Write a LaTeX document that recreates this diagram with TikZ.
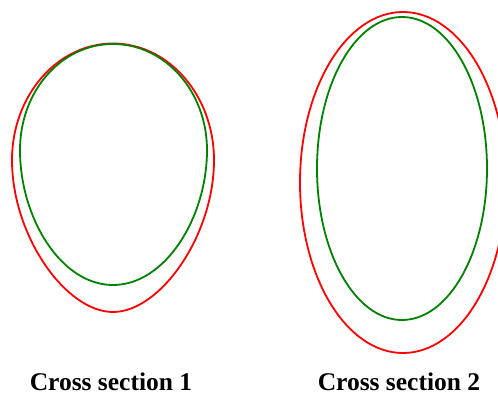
\documentclass[tikz,border=0pt]{standalone}
\usepackage{fontspec}
\setmainfont{Liberation Serif}
\definecolor{csred}{RGB}{255,0,0}
\definecolor{csgreen}{RGB}{0,128,0}

\begin{document}
\begin{tikzpicture}[x=1pt,y=-1pt,
  outer/.style={draw=csred,line width=1.8pt},
  inner/.style={draw=csgreen,line width=1.8pt},
  lbl/.style={anchor=base,inner sep=0pt,font=\fontsize{25.5}{30}\selectfont\bfseries}]
  \useasboundingbox (0,0) rectangle (498,396);
  \clip (0,0) rectangle (498,396);
  % cross section 1: egg shapes
  \draw[outer] (113,43.5) .. controls (169,43.5) and (214,96) .. (214,160)
    .. controls (214,236) and (160,312) .. (113,312)
    .. controls (66,312) and (12,236) .. (12,160)
    .. controls (12,96) and (57,43.5) .. cycle;
  \draw[inner] (113,44) .. controls (165,44) and (207,91.5) .. (207,150)
    .. controls (207,218) and (165,285) .. (113,285)
    .. controls (61,285) and (20,218) .. (20,150)
    .. controls (20,91.5) and (61,44) .. cycle;
  % cross section 2: ellipses
  \draw[outer] (403,182.5) ellipse [x radius=103pt,y radius=170.5pt];
  \draw[inner] (402,168.5) ellipse [x radius=85pt,y radius=151.5pt];
  % labels
  \node[lbl] (cs1) at (111,390.5) {Cross section 1};
  \node[lbl] (cs2) at (399,390.5) {Cross section 2};
\end{tikzpicture}
\end{document}
